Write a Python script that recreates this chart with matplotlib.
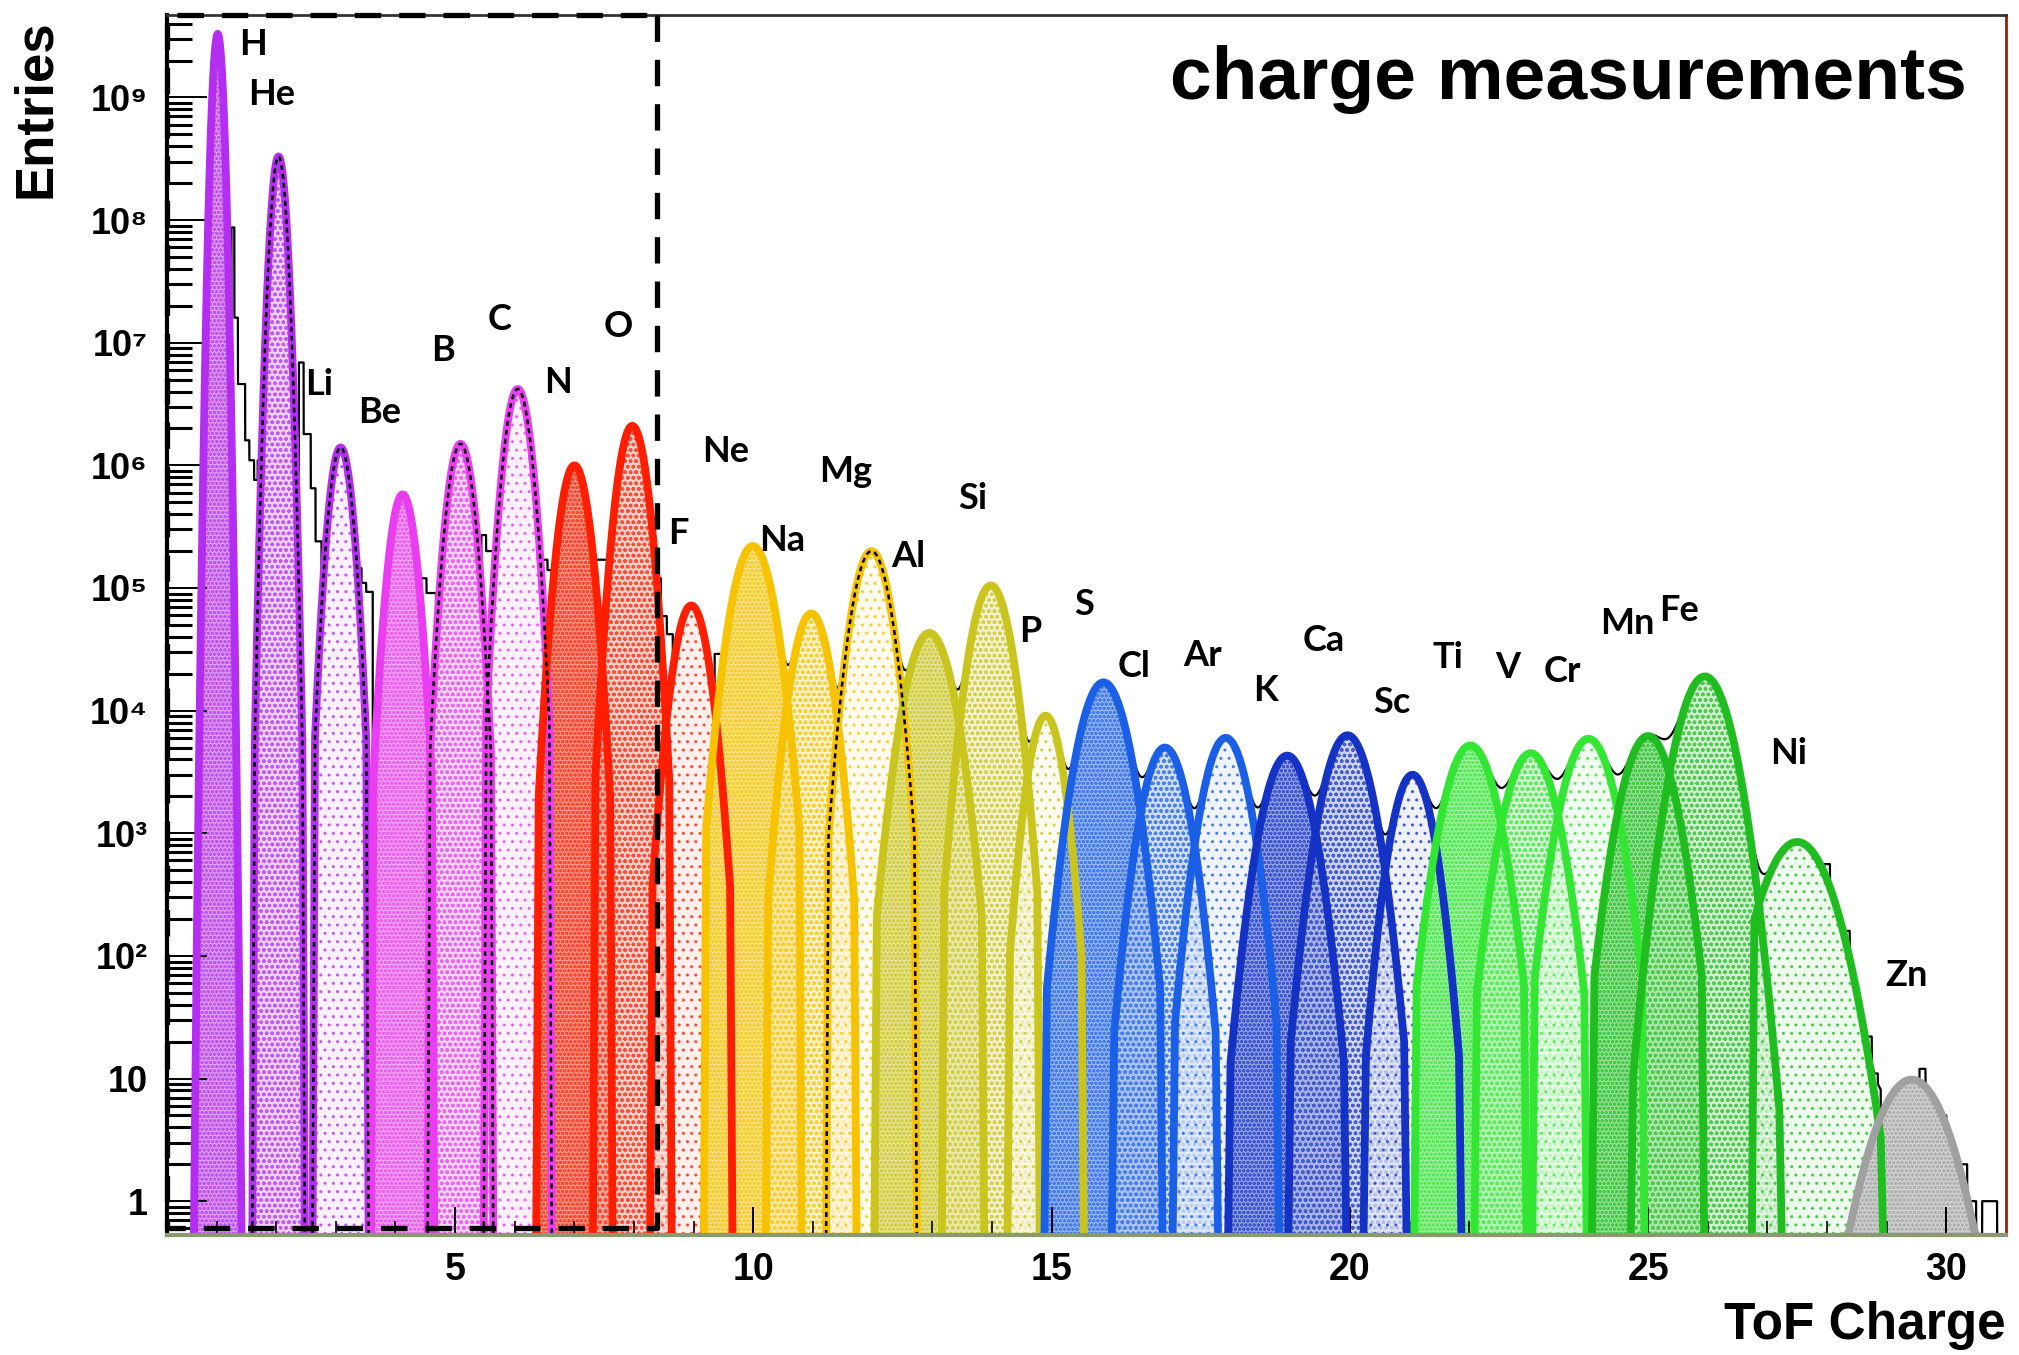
import numpy as np
import matplotlib
matplotlib.use("Agg")
import matplotlib.pyplot as plt
from matplotlib.colors import to_rgb

# ---------------- data ----------------
elements = ['H', 'He', 'Li', 'Be', 'B', 'C', 'N', 'O', 'F', 'Ne', 'Na', 'Mg', 'Al', 'Si',
            'P', 'S', 'Cl', 'Ar', 'K', 'Ca', 'Sc', 'Ti', 'V', 'Cr', 'Mn', 'Fe', 'Ni', 'Zn']
peak_charge = [1.02, 2.04, 3.08, 4.12, 5.09, 6.05, 7.00, 7.97, 8.96, 9.99, 10.97, 11.98, 12.95, 13.98,
               14.90, 15.87, 16.90, 17.92, 18.95, 19.96, 21.05, 22.02, 23.03, 24.00, 25.00, 25.95, 27.50, 29.42]
peak_entries = [3.3e9, 3.3e8, 1.4e6, 5.8e5, 1.5e6, 4.2e6, 1.0e6, 2.1e6, 7.2e4, 2.2e5, 6.2e4, 2.0e5, 4.3e4, 1.05e5,
                9.1e3, 1.7e4, 5.0e3, 6.0e3, 4.3e3, 6.3e3, 3.0e3, 5.2e3, 4.5e3, 5.9e3, 6.2e3, 1.9e4, 850, 9.8]
# gaussian width of each fitted peak (charge units)
peak_sigma = [0.060, 0.085, 0.13, 0.15, 0.15, 0.15, 0.17, 0.17, 0.20, 0.24, 0.22, 0.22, 0.27, 0.23,
              0.20, 0.28, 0.26, 0.26, 0.28, 0.28, 0.24, 0.30, 0.30, 0.30, 0.30, 0.31, 0.42, 0.44]
# extent of each fit below / above its peak (charge units)
fit_left = [0.36, 0.40, 0.43, 0.49, 0.51, 0.53, 0.60, 0.62, 0.65, 0.78, 0.72, 0.72, 0.88, 0.78,
            0.60, 0.95, 0.85, 0.85, 0.95, 0.95, 0.78, 0.90, 0.90, 0.90, 0.90, 1.20, 0.72, 1.05]
fit_right = [0.36, 0.40, 0.43, 0.49, 0.51, 0.53, 0.60, 0.62, 0.65, 0.78, 0.72, 0.72, 0.88, 0.78,
             0.60, 0.95, 0.85, 0.85, 0.95, 0.95, 0.78, 0.90, 0.90, 0.90, 0.90, 1.25, 1.40, 1.05]

# measured histogram bins that stand above the fitted peaks (valleys and tail)
hist_lo = [1.25, 1.30, 1.36, 1.48, 1.55, 1.63, 1.69, 2.38, 2.46, 2.58, 2.66, 3.36, 3.43, 3.51,
           4.43, 4.52, 5.44, 5.52, 6.45, 6.55, 7.35, 8.36, 8.45, 8.55, 9.35,
           27.95, 28.28, 28.38, 28.48, 28.58, 28.75, 29.55, 29.90, 30.00, 30.25, 30.35, 30.60]
hist_hi = [1.30, 1.36, 1.48, 1.55, 1.63, 1.69, 1.76, 2.46, 2.58, 2.66, 2.76, 3.43, 3.51, 3.62,
           4.52, 4.68, 5.52, 5.66, 6.55, 6.65, 7.60, 8.45, 8.55, 8.65, 9.50,
           28.05, 28.38, 28.48, 28.58, 28.75, 28.85, 29.65, 30.00, 30.10, 30.35, 30.50, 30.85]
hist_entries = [8.7e7, 1.6e7, 4.6e6, 1.6e6, 1.1e6, 7.6e5, 1.1e6, 6.9e6, 1.8e6, 6.5e5, 2.4e5, 1.45e5, 1.1e5, 9.3e4,
                1.2e5, 9.1e4, 2.7e5, 2.0e5, 1.7e5, 1.4e5, 1.7e5, 1.2e5, 5.9e4, 4.2e4, 2.9e4,
                560, 160, 70, 32, 22, 11, 12, 5, 2, 2, 1, 1]

x_ticks = [5, 10, 15, 20, 25, 30]
y_ticks = [1, 10, 1e2, 1e3, 1e4, 1e5, 1e6, 1e7, 1e8, 1e9]
y_ticklabels = ['1', '10', '10²', '10³', '10⁴', '10⁵', '10⁶', '10⁷', '10⁸', '10⁹']
selection_zmax = 8.39      # dashed selection box: right edge (charge)
selection_ymin = 0.61      # dashed selection box: bottom (entries)

# ---------------- styles / layout ----------------
XMIN, XMAX = 0.17, 31.0
YMIN, YMAX = 0.53, 4.7e9
FOOT = 0.04                # slant of the drop lines at the ends of each fit
group_colors = ['#b42ef2'] * 3 + ['#ea3cf0'] * 3 + ['#ff1e00'] * 3 + ['#f7c200'] * 3 + \
               ['#c9c41e'] * 3 + ['#1b5fe6'] * 3 + ['#1432c4'] * 3 + ['#33e633'] * 3 + \
               ['#1fbd1f'] * 3 + ['#a0a0a0']
dashed_overlay = ['He', 'Li', 'B', 'C', 'Mg']
label_pos = {  # (charge, entries) where each element name is written
    'H': (1.62, 2.7e9), 'He': (1.92, 1.05e9), 'Li': (2.72, 4.6e6), 'Be': (3.73, 2.7e6),
    'B': (4.79, 8.7e6), 'C': (5.74, 1.55e7), 'N': (6.73, 4.7e6), 'O': (7.74, 1.35e7),
    'F': (8.74, 2.8e5), 'Ne': (9.53, 1.3e6), 'Na': (10.48, 2.45e5), 'Mg': (11.54, 8.9e5),
    'Al': (12.60, 1.8e5), 'Si': (13.67, 5.4e5), 'P': (14.64, 4.4e4), 'S': (15.55, 7.4e4),
    'Cl': (16.39, 2.3e4), 'Ar': (17.53, 2.8e4), 'K': (18.59, 1.45e4), 'Ca': (19.56, 3.7e4),
    'Sc': (20.71, 1.17e4), 'Ti': (21.65, 2.7e4), 'V': (22.65, 2.24e4), 'Cr': (23.57, 2.1e4),
    'Mn': (24.65, 5.1e4), 'Fe': (25.51, 6.6e4), 'Ni': (27.35, 4.5e3), 'Zn': (29.33, 69),
}


def mix_white(c, f):
    r, g, b = to_rgb(c)
    return (r + (1 - r) * f, g + (1 - g) * f, b + (1 - b) * f)


def gauss(x, c, a, s, lo, hi):
    y = a * np.exp(-0.5 * ((x - c) / s) ** 2)
    return np.where((x >= c - lo) & (x <= c + hi), y, 0.0)


fig = plt.figure(figsize=(20.19, 13.55), dpi=100)
ax = fig.add_axes([167 / 2019, 1 - 1235 / 1355, (2006 - 167) / 2019, (1235 - 15) / 1355])
ax.set_yscale('log')
ax.set_xlim(XMIN, XMAX)
ax.set_ylim(YMIN, YMAX)
plt.rcParams['hatch.linewidth'] = 1.0

fill_face = [0.45, 0.72, 0.9]
fill_hatch = ['oooo', 'ooo', '..']
fill_alpha = [0.85, 0.75, 0.7]

params = list(zip(peak_charge, peak_entries, peak_sigma, fit_left, fit_right))
curves = []
for i, (name, (c, a, s, lo, hi)) in enumerate(zip(elements, params)):
    xc = np.linspace(c - lo, c + hi, 600)
    yc = np.maximum(gauss(xc, c, a, s, lo, hi), YMIN)
    xc = np.concatenate([[c - lo - FOOT], xc, [c + hi + FOOT]])
    yc = np.concatenate([[YMIN], yc, [YMIN]])
    curves.append((xc, yc))
    k = i % 3 if name != 'Zn' else 0
    col = group_colors[i]
    fc = mix_white(col, fill_face[k]) + (fill_alpha[k],)
    ec = mix_white(col, 0.15) + (0.9,)
    ax.fill_between(xc, YMIN, yc, facecolor=fc, edgecolor=ec, hatch=fill_hatch[k],
                    linewidth=0, zorder=1)

# black data histogram: sum of fitted peaks, with measured bins where they stand higher
xs = np.linspace(XMIN, XMAX, 15000)
total = np.zeros_like(xs)
for c, a, s, lo, hi in params:
    total += gauss(xs, c, a, s, lo, hi)
for lo, hi, v in zip(hist_lo, hist_hi, hist_entries):
    total = np.where((xs >= lo) & (xs < hi), np.maximum(total, v), total)
total = np.maximum(total, YMIN)
ax.plot(xs, total, color='black', lw=1.6, zorder=3)

for i, (name, (xc, yc)) in enumerate(zip(elements, curves)):
    ax.plot(xc, yc, color=group_colors[i], lw=5.6, solid_capstyle='butt', zorder=4)
    if name in dashed_overlay:
        ax.plot(xc, yc, color='black', lw=1.8, dashes=(2.0, 1.6), zorder=5)

# red baseline along the bottom
ax.axhline(YMIN * 1.02, color='#ff2a10', lw=2.0, zorder=6)

# dashed selection box
ax.plot([selection_zmax, selection_zmax, XMIN, XMIN, selection_zmax],
        [YMAX, selection_ymin, selection_ymin, YMAX, YMAX],
        color='black', lw=3.8, dashes=(5, 3.4), clip_on=False, zorder=10)

# element labels
for name in elements:
    x, y = label_pos[name]
    ax.text(x, y, name, ha='center', va='center', fontsize=26, fontweight='bold',
            family=['Lato', 'Open Sans', 'DejaVu Sans'], zorder=12)

# axes, ticks
ax.set_xticks(x_ticks)
ax.set_xticks([z for z in range(1, 31) if z % 5 != 0], minor=True)
ax.set_yticks(y_ticks)
ax.set_yticklabels(y_ticklabels)
minors = []
for e in range(-1, 10):
    for m in range(2, 10):
        v = m * 10.0 ** e
        if YMIN < v < YMAX:
            minors.append(v)
ax.set_yticks(minors, minor=True)
ax.set_xticklabels([str(t) for t in x_ticks])
ax.yaxis.set_minor_formatter(plt.NullFormatter())
ax.tick_params(axis='y', which='major', direction='in', length=29, width=1.4, pad=14)
ax.tick_params(axis='y', which='minor', direction='in', length=18, width=2.2)
ax.tick_params(axis='x', which='major', direction='in', length=20, width=1.4, pad=12)
ax.tick_params(axis='x', which='minor', direction='in', length=10, width=1.2)
for lab in ax.get_xticklabels():
    lab.set_fontfamily(['Liberation Sans', 'DejaVu Sans'])
    lab.set_fontweight('bold')
    lab.set_fontsize(27)
for lab in ax.get_yticklabels():
    lab.set_fontfamily(['Liberation Sans', 'DejaVu Sans'])
    lab.set_fontweight('bold')
    lab.set_fontsize(26)

ax.spines['left'].set_color('black')
ax.spines['left'].set_linewidth(3.0)
ax.spines['top'].set_color('#333333')
ax.spines['top'].set_linewidth(2.0)
ax.spines['right'].set_color('#a01e00')
ax.spines['right'].set_linewidth(2.0)
ax.spines['bottom'].set_color('#8a9a70')
ax.spines['bottom'].set_linewidth(3.0)
for sp in ax.spines.values():
    sp.set_zorder(8)

fig.text(0.974, 0.941, 'charge measurements', ha='right', va='center', fontsize=54,
         fontweight='bold', family=['Liberation Sans', 'DejaVu Sans'])
fig.text(0.0178, 0.986, 'Entries', ha='center', va='top', rotation=90, fontsize=38,
         fontweight='bold', family=['Liberation Sans', 'DejaVu Sans'])
fig.text(0.9936, 0.0118, 'ToF Charge', ha='right', va='baseline', fontsize=37,
         fontweight='bold', family=['Liberation Sans Narrow', 'Liberation Sans', 'DejaVu Sans'])

fig.savefig('out.png', dpi=100, facecolor='white')
